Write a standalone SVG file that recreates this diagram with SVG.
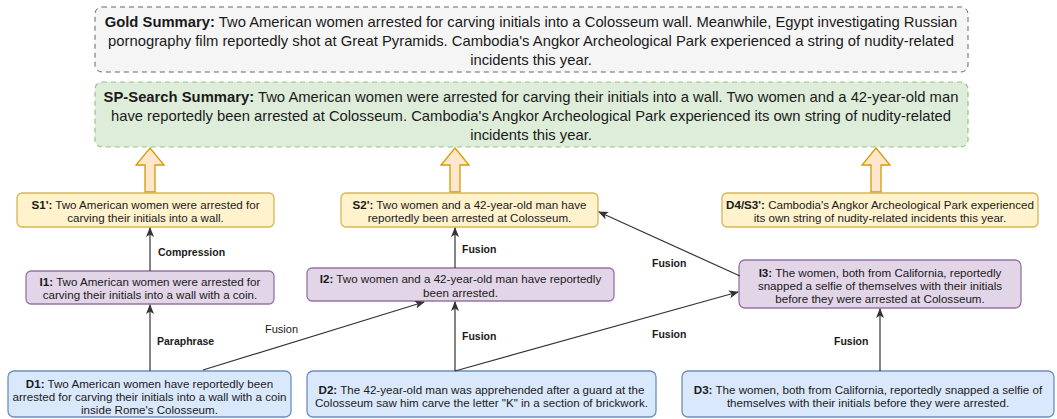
<svg xmlns="http://www.w3.org/2000/svg" width="1057" height="419" viewBox="0 0 1057 419">
<style>
text{font-family:"Liberation Sans",Arial,sans-serif;fill:#1a1a1a}
.big{font-size:14.8px;text-anchor:middle}
.t{font-size:11.6px;text-anchor:middle}
.b{font-weight:bold}
.lbl{font-size:10.5px;font-weight:bold}
.lr{font-size:11px}
.d{fill:#dae8fc;stroke:#6c8ebf;stroke-width:1.3}
.i{fill:#e1d5e7;stroke:#9673a6;stroke-width:1.3}
.s{fill:#fff2cc;stroke:#d6b656;stroke-width:1.3}
.blk{fill:#ffe6cc;stroke:#d79b00;stroke-width:1.3}
.edge{fill:none;stroke:#333;stroke-width:1.2;marker-end:url(#ah)}
</style>
<defs>
<marker id="ah" viewBox="0 0 10 8" refX="9" refY="4" markerWidth="10" markerHeight="8" markerUnits="userSpaceOnUse" orient="auto">
<path d="M0,0 L10,4 L0,8 L2.5,4 z" fill="#333"/>
</marker>
</defs>
<g id="gold">
<rect x="95" y="7" width="873" height="65" rx="7" fill="#f5f5f5" stroke="#666" stroke-dasharray="5 4" stroke-width="1"/>
<text class="big" x="531" y="27" fill="#333"><tspan class="b">Gold Summary:</tspan> Two American women arrested for carving initials into a Colosseum wall. Meanwhile, Egypt investigating Russian</text>
<text class="big" x="531" y="46">pornography film reportedly shot at Great Pyramids. Cambodia's Angkor Archeological Park experienced a string of nudity-related</text>
<text class="big" x="531" y="65">incidents this year.</text>
</g>
<g id="sp">
<rect x="95" y="82" width="873" height="65" rx="7" fill="#deedda" stroke="#97c47f" stroke-dasharray="5 4" stroke-width="1.2"/>
<text class="big" x="531" y="102"><tspan class="b">SP-Search Summary:</tspan> Two American women were arrested for carving their initials into a wall. Two women and a 42-year-old man</text>
<text class="big" x="531" y="121">have reportedly been arrested at Colosseum. Cambodia's Angkor Archeological Park experienced its own string of nudity-related</text>
<text class="big" x="531" y="140">incidents this year.</text>
</g>
<g id="blockarrows">
<path class="blk" d="M150,148 L164,165 L155,165 L155,192 L145,192 L145,165 L136,165 Z"/>
<path class="blk" d="M455,148 L469,165 L460,165 L460,192 L450,192 L450,165 L441,165 Z"/>
<path class="blk" d="M876,148 L890,165 L881,165 L881,192 L871,192 L871,165 L862,165 Z"/>
</g>
<g id="S1">
<rect class="s" x="17" y="193" width="257" height="34" rx="5"/>
<text class="t" x="145.5" y="209"><tspan class="b">S1':</tspan> Two American women were arrested for</text>
<text class="t" x="145.5" y="222">carving their initials into a wall.</text>
</g>
<g id="S2">
<rect class="s" x="341" y="193" width="257" height="34" rx="5"/>
<text class="t" x="469.5" y="209"><tspan class="b">S2':</tspan> Two women and a 42-year-old man have</text>
<text class="t" x="469.5" y="222">reportedly been arrested at Colosseum.</text>
</g>
<g id="S3">
<rect class="s" x="722" y="193" width="316" height="34" rx="5"/>
<text class="t" x="880" y="209"><tspan class="b">D4/S3':</tspan> Cambodia's Angkor Archeological Park experienced</text>
<text class="t" x="880" y="222">its own string of nudity-related incidents this year.</text>
</g>
<g id="I1">
<rect class="i" x="26" y="271" width="248" height="33" rx="5"/>
<text class="t" x="150" y="286"><tspan class="b">I1:</tspan> Two American women were arrested for</text>
<text class="t" x="150" y="299">carving their initials into a wall with a coin.</text>
</g>
<g id="I2">
<rect class="i" x="307" y="268" width="307" height="33" rx="5"/>
<text class="t" x="460.5" y="283"><tspan class="b">I2:</tspan> Two women and a 42-year-old man have reportedly</text>
<text class="t" x="460.5" y="297">been arrested.</text>
</g>
<g id="I3">
<rect class="i" x="739" y="260" width="282" height="48" rx="6"/>
<text class="t" x="880" y="277"><tspan class="b">I3:</tspan> The women, both from California, reportedly</text>
<text class="t" x="880" y="290">snapped a selfie of themselves with their initials</text>
<text class="t" x="880" y="303">before they were arrested at Colosseum.</text>
</g>
<g id="D1">
<rect class="d" x="8" y="371" width="283" height="46" rx="6"/>
<text class="t" x="149.5" y="388"><tspan class="b">D1:</tspan> Two American women have reportedly been</text>
<text class="t" x="149.5" y="401">arrested for carving their initials into a wall with a coin</text>
<text class="t" x="149.5" y="414">inside Rome's Colosseum.</text>
</g>
<g id="D2">
<rect class="d" x="307" y="371" width="349" height="46" rx="6"/>
<text class="t" x="481.5" y="394"><tspan class="b">D2:</tspan> The 42-year-old man was apprehended after a guard at the</text>
<text class="t" x="481.5" y="407">Colosseum saw him carve the letter "K" in a section of brickwork.</text>
</g>
<g id="D3">
<rect class="d" x="682" y="371" width="372" height="46" rx="6"/>
<text class="t" x="868" y="394"><tspan class="b">D3:</tspan> The women, both from California, reportedly snapped a selfie of</text>
<text class="t" x="868" y="407">themselves with their initials before they were arrested.</text>
</g>
<g id="connectors">
<path class="edge" d="M150,271 L150,228"/>
<path class="edge" d="M150,371 L150,305"/>
<path class="edge" d="M455,268 L455,228"/>
<path class="edge" d="M455,371 L455,302"/>
<path class="edge" d="M880,371 L880,309"/>
<path class="edge" d="M203,370 L424,302"/>
<path class="edge" d="M455,371 L738,292"/>
<path class="edge" d="M740,276 L599,212"/>
<text class="lbl" x="158" y="256">Compression</text>
<text class="lbl" x="157" y="345">Paraphrase</text>
<text class="lr" x="265" y="333">Fusion</text>
<text class="lbl" x="462" y="253">Fusion</text>
<text class="lbl" x="462" y="340">Fusion</text>
<text class="lbl" x="652" y="267">Fusion</text>
<text class="lbl" x="652" y="338">Fusion</text>
<text class="lbl" x="834" y="345">Fusion</text>
</g>
</svg>
